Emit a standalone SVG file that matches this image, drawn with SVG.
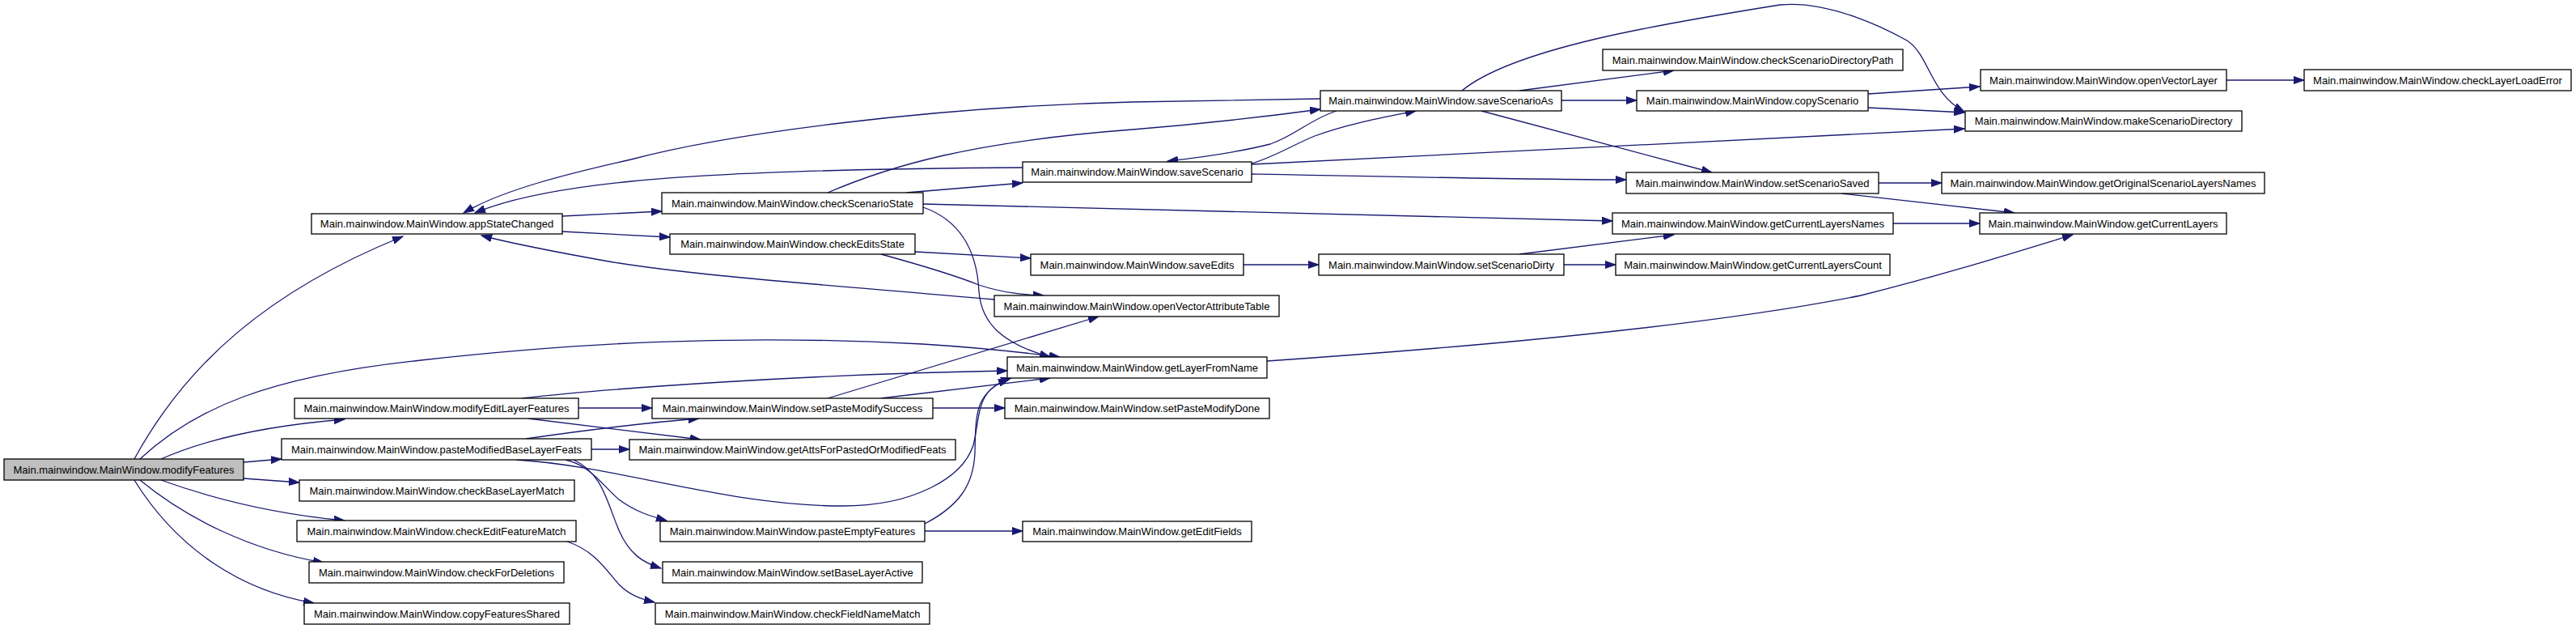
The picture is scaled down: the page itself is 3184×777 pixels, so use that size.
<svg xmlns="http://www.w3.org/2000/svg" width="3184" height="777" viewBox="0 0 3184 777">
<style>
.n{fill:#ffffff;stroke:#000000;stroke-width:1.3}
.root{fill:#bfbfbf;stroke:#000000;stroke-width:1.3}
.t{font-family:"Liberation Sans",Arial,sans-serif;font-size:13px;fill:#000000;text-anchor:middle}
.e{fill:none;stroke:#191970;stroke-width:1.3;marker-end:url(#ah)}
</style>
<defs>
<marker id="ah" markerUnits="userSpaceOnUse" markerWidth="14" markerHeight="10" refX="13" refY="5" orient="auto">
<path d="M0,0.5 L13,5 L0,9.5 z" fill="#191970" stroke="#191970" stroke-width="1"/>
</marker>
</defs>
<rect width="3184" height="777" fill="#ffffff"/>
<g id="connectors">
<path class="e" d="M166,567 C230,450 330,360 498,292"/>
<path class="e" d="M173,567 C240,505 330,465 520,445 C700,425 900,412 1140,425 C1220,430 1270,436 1310,441"/>
<path class="e" d="M199,567 C260,540 340,525 426,518"/>
<path class="e" d="M301,571 L348,567"/>
<path class="e" d="M301,591 L370,596"/>
<path class="e" d="M199,593 C260,615 340,635 426,643"/>
<path class="e" d="M173,593 C230,640 310,680 400,695"/>
<path class="e" d="M166,593 C220,680 300,730 388,745"/>
<path class="e" d="M695,267 L818,261"/>
<path class="e" d="M695,286 L828,293"/>
<path class="e" d="M1023,238 C1100,205 1200,175 1400,160 C1500,152 1580,142 1632,135"/>
<path class="e" d="M1120,238 L1264,226"/>
<path class="e" d="M1141,252 C1500,262 1800,268 1993,273"/>
<path class="e" d="M1141,256 C1195,275 1208,320 1210,360 C1213,400 1240,425 1298,441"/>
<path class="e" d="M1632,122 L1400,126 C1150,132 900,165 780,197 C700,215 620,235 573,263"/>
<path class="e" d="M1652,137 C1620,147 1600,168 1570,178 C1530,188 1480,195 1443,199"/>
<path class="e" d="M1878,112 L2069,87"/>
<path class="e" d="M1930,124 L2023,124"/>
<path class="e" d="M1831,137 L2116,213"/>
<path class="e" d="M1807,112 C1870,60 2050,30 2200,6 C2260,0 2330,35 2357,50 C2385,68 2385,115 2428,138"/>
<path class="e" d="M1264,207 C1100,208 900,212 780,224 C700,232 630,245 587,263"/>
<path class="e" d="M1547,202 C1575,194 1600,178 1625,168 C1665,153 1710,145 1750,137"/>
<path class="e" d="M1547,203 C1900,186 2200,170 2428,159"/>
<path class="e" d="M1547,215 C1800,220 1900,222 2010,222"/>
<path class="e" d="M2309,116 L2447,107"/>
<path class="e" d="M2309,133 L2428,139"/>
<path class="e" d="M2752,99 L2848,99"/>
<path class="e" d="M2322,226 L2400,226"/>
<path class="e" d="M2276,239 L2490,263"/>
<path class="e" d="M2340,276 L2447,276"/>
<path class="e" d="M1131,311 L1274,319"/>
<path class="e" d="M1089,314 C1140,328 1180,340 1210,352 C1240,362 1265,364 1290,365"/>
<path class="e" d="M1537,327 L1630,327"/>
<path class="e" d="M1878,314 L2069,290"/>
<path class="e" d="M1933,327 L1997,327"/>
<path class="e" d="M1229,370 C1000,350 850,340 747,322 C680,310 630,300 595,291"/>
<path class="e" d="M1566,446 C1800,430 2100,405 2300,365 C2400,340 2480,315 2562,290"/>
<path class="e" d="M645,492 C750,480 1000,462 1245,458"/>
<path class="e" d="M715,504 L806,504"/>
<path class="e" d="M653,517 L866,543"/>
<path class="e" d="M650,542 C720,532 800,522 864,517"/>
<path class="e" d="M731,555 L778,555"/>
<path class="e" d="M638,568 C760,575 900,625 1041,625 C1130,625 1190,590 1203,550 C1212,515 1205,480 1250,467"/>
<path class="e" d="M699,568 C730,575 745,600 765,617 C785,632 805,638 824,643"/>
<path class="e" d="M709,568 C745,585 750,620 765,655 C778,685 795,695 817,702"/>
<path class="e" d="M1023,492 L1358,391"/>
<path class="e" d="M1089,492 L1298,467"/>
<path class="e" d="M1153,504 L1242,504"/>
<path class="e" d="M1143,647 C1185,625 1203,600 1205,560 C1206,510 1205,485 1247,468"/>
<path class="e" d="M1143,656 L1264,656"/>
<path class="e" d="M701,669 C735,680 750,705 765,722 C778,735 792,740 809,744"/>
</g>
<g id="modifyFeatures"><rect class="root" x="5" y="567" width="296" height="26"/><text class="t" x="153" y="584.5">Main.mainwindow.MainWindow.modifyFeatures</text></g>
<g id="appStateChanged"><rect class="n" x="385" y="264" width="310" height="25"/><text class="t" x="540" y="281">Main.mainwindow.MainWindow.appStateChanged</text></g>
<g id="modifyEditLayerFeatures"><rect class="n" x="364" y="492" width="351" height="25"/><text class="t" x="539.5" y="509">Main.mainwindow.MainWindow.modifyEditLayerFeatures</text></g>
<g id="pasteModifiedBaseLayerFeats"><rect class="n" x="348" y="542" width="383" height="26"/><text class="t" x="539.5" y="559.5">Main.mainwindow.MainWindow.pasteModifiedBaseLayerFeats</text></g>
<g id="checkBaseLayerMatch"><rect class="n" x="370" y="593" width="340" height="26"/><text class="t" x="540" y="610.5">Main.mainwindow.MainWindow.checkBaseLayerMatch</text></g>
<g id="checkEditFeatureMatch"><rect class="n" x="367" y="643" width="345" height="26"/><text class="t" x="539.5" y="660.5">Main.mainwindow.MainWindow.checkEditFeatureMatch</text></g>
<g id="checkForDeletions"><rect class="n" x="382" y="694" width="315" height="26"/><text class="t" x="539.5" y="711.5">Main.mainwindow.MainWindow.checkForDeletions</text></g>
<g id="copyFeaturesShared"><rect class="n" x="376" y="745" width="328" height="26"/><text class="t" x="540" y="762.5">Main.mainwindow.MainWindow.copyFeaturesShared</text></g>
<g id="checkScenarioState"><rect class="n" x="818" y="238" width="323" height="26"/><text class="t" x="979.5" y="255.5">Main.mainwindow.MainWindow.checkScenarioState</text></g>
<g id="checkEditsState"><rect class="n" x="828" y="289" width="303" height="25"/><text class="t" x="979.5" y="306">Main.mainwindow.MainWindow.checkEditsState</text></g>
<g id="saveScenario"><rect class="n" x="1264" y="200" width="283" height="25"/><text class="t" x="1405.5" y="217">Main.mainwindow.MainWindow.saveScenario</text></g>
<g id="saveEdits"><rect class="n" x="1274" y="314" width="263" height="26"/><text class="t" x="1405.5" y="331.5">Main.mainwindow.MainWindow.saveEdits</text></g>
<g id="openVectorAttributeTable"><rect class="n" x="1229" y="365" width="352" height="26"/><text class="t" x="1405" y="382.5">Main.mainwindow.MainWindow.openVectorAttributeTable</text></g>
<g id="getLayerFromName"><rect class="n" x="1245" y="441" width="321" height="26"/><text class="t" x="1405.5" y="458.5">Main.mainwindow.MainWindow.getLayerFromName</text></g>
<g id="setPasteModifySuccess"><rect class="n" x="806" y="492" width="347" height="25"/><text class="t" x="979.5" y="509">Main.mainwindow.MainWindow.setPasteModifySuccess</text></g>
<g id="setPasteModifyDone"><rect class="n" x="1242" y="492" width="327" height="25"/><text class="t" x="1405.5" y="509">Main.mainwindow.MainWindow.setPasteModifyDone</text></g>
<g id="getAttsForPastedOrModifiedFeats"><rect class="n" x="778" y="543" width="403" height="25"/><text class="t" x="979.5" y="560">Main.mainwindow.MainWindow.getAttsForPastedOrModifiedFeats</text></g>
<g id="pasteEmptyFeatures"><rect class="n" x="816" y="644" width="327" height="25"/><text class="t" x="979.5" y="661">Main.mainwindow.MainWindow.pasteEmptyFeatures</text></g>
<g id="setBaseLayerActive"><rect class="n" x="819" y="694" width="321" height="26"/><text class="t" x="979.5" y="711.5">Main.mainwindow.MainWindow.setBaseLayerActive</text></g>
<g id="checkFieldNameMatch"><rect class="n" x="810" y="745" width="339" height="26"/><text class="t" x="979.5" y="762.5">Main.mainwindow.MainWindow.checkFieldNameMatch</text></g>
<g id="getEditFields"><rect class="n" x="1264" y="644" width="283" height="25"/><text class="t" x="1405.5" y="661">Main.mainwindow.MainWindow.getEditFields</text></g>
<g id="saveScenarioAs"><rect class="n" x="1632" y="112" width="298" height="25"/><text class="t" x="1781" y="129">Main.mainwindow.MainWindow.saveScenarioAs</text></g>
<g id="checkScenarioDirectoryPath"><rect class="n" x="1981" y="61" width="371" height="26"/><text class="t" x="2166.5" y="78.5">Main.mainwindow.MainWindow.checkScenarioDirectoryPath</text></g>
<g id="copyScenario"><rect class="n" x="2023" y="112" width="286" height="25"/><text class="t" x="2166" y="129">Main.mainwindow.MainWindow.copyScenario</text></g>
<g id="setScenarioSaved"><rect class="n" x="2010" y="213" width="312" height="26"/><text class="t" x="2166" y="230.5">Main.mainwindow.MainWindow.setScenarioSaved</text></g>
<g id="getCurrentLayersNames"><rect class="n" x="1993" y="263" width="347" height="26"/><text class="t" x="2166.5" y="280.5">Main.mainwindow.MainWindow.getCurrentLayersNames</text></g>
<g id="setScenarioDirty"><rect class="n" x="1630" y="314" width="303" height="26"/><text class="t" x="1781.5" y="331.5">Main.mainwindow.MainWindow.setScenarioDirty</text></g>
<g id="getCurrentLayersCount"><rect class="n" x="1997" y="314" width="339" height="26"/><text class="t" x="2166.5" y="331.5">Main.mainwindow.MainWindow.getCurrentLayersCount</text></g>
<g id="openVectorLayer"><rect class="n" x="2448" y="86" width="304" height="26"/><text class="t" x="2600" y="103.5">Main.mainwindow.MainWindow.openVectorLayer</text></g>
<g id="checkLayerLoadError"><rect class="n" x="2848" y="86" width="330" height="26"/><text class="t" x="3013" y="103.5">Main.mainwindow.MainWindow.checkLayerLoadError</text></g>
<g id="makeScenarioDirectory"><rect class="n" x="2429" y="137" width="342" height="25"/><text class="t" x="2600" y="154">Main.mainwindow.MainWindow.makeScenarioDirectory</text></g>
<g id="getOriginalScenarioLayersNames"><rect class="n" x="2400" y="213" width="399" height="26"/><text class="t" x="2599.5" y="230.5">Main.mainwindow.MainWindow.getOriginalScenarioLayersNames</text></g>
<g id="getCurrentLayers"><rect class="n" x="2447" y="263" width="305" height="26"/><text class="t" x="2599.5" y="280.5">Main.mainwindow.MainWindow.getCurrentLayers</text></g>
</svg>
